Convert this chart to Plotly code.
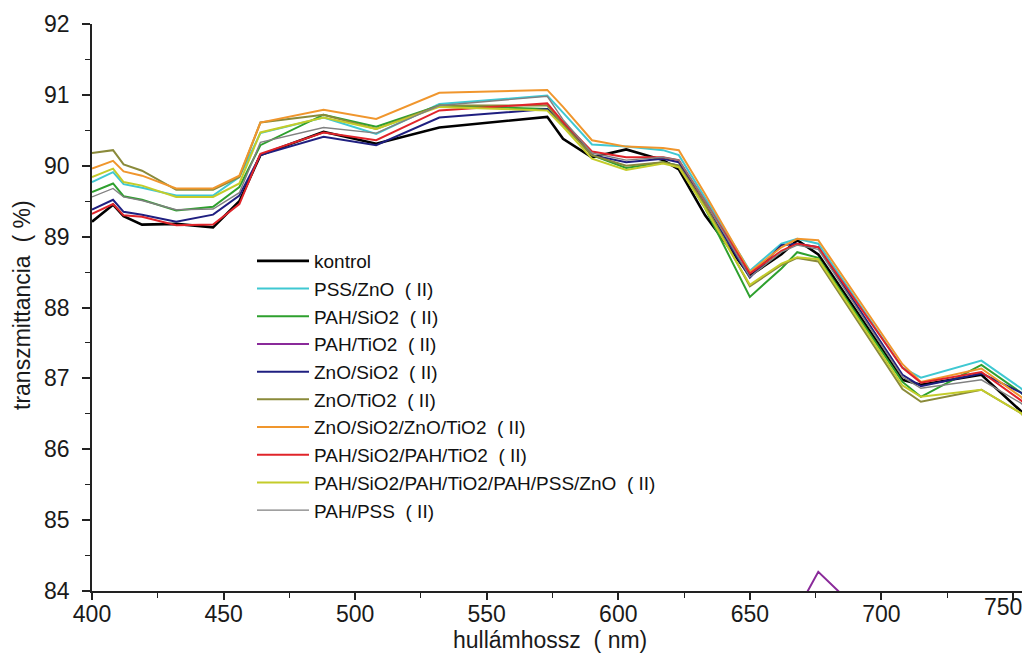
import plotly.graph_objects as go

wavelength = [400, 408, 412, 419, 432, 446, 456, 464, 488, 508, 532, 573, 579, 590,
              603, 617, 623, 633, 650, 662, 668, 676, 708, 715, 738, 753, 760]

kontrol = [89.21, 89.45, 89.29, 89.17, 89.18, 89.13, 89.50, 90.15, 90.48, 90.31, 90.54, 90.69, 90.38, 90.12,
           90.23, 90.08, 89.95, 89.30, 88.45, 88.75, 88.95, 88.75, 86.98, 86.91, 87.05, 86.55, 86.30]
pss_zno = [89.77, 89.91, 89.74, 89.69, 89.58, 89.58, 89.84, 90.46, 90.68, 90.45, 90.87, 90.99, 90.75, 90.30,
           90.27, 90.22, 90.15, 89.55, 88.52, 88.90, 88.97, 88.90, 87.15, 87.01, 87.25, 86.86, 86.60]
pah_sio2 = [89.63, 89.75, 89.57, 89.52, 89.37, 89.42, 89.70, 90.29, 90.72, 90.55, 90.85, 90.80, 90.60, 90.15,
            89.97, 90.05, 90.00, 89.40, 88.15, 88.55, 88.78, 88.70, 86.95, 86.74, 87.19, 86.80, 86.55]
pah_tio2 = [83.20, 83.40, 83.30, 83.20, 83.10, 83.10, 83.30, 83.60, 83.70, 83.60, 83.70, 83.80, 83.60, 83.50,
            83.50, 83.50, 83.40, 83.20, 83.00, 83.50, 83.73, 84.27, 83.13, 83.00, 83.10, 82.90, 82.80]
zno_sio2 = [89.38, 89.52, 89.35, 89.31, 89.21, 89.31, 89.58, 90.15, 90.41, 90.29, 90.68, 90.80, 90.60, 90.15,
            90.05, 90.10, 90.05, 89.45, 88.42, 88.88, 88.90, 88.85, 87.05, 86.89, 87.07, 86.80, 86.60]
zno_tio2 = [90.18, 90.22, 90.02, 89.93, 89.66, 89.66, 89.84, 90.61, 90.72, 90.52, 90.85, 90.85, 90.58, 90.15,
            90.00, 90.05, 90.00, 89.45, 88.30, 88.60, 88.70, 88.65, 86.85, 86.67, 86.84, 86.51, 86.25]
zno_sio2_zno_tio2 = [89.96, 90.07, 89.92, 89.86, 89.68, 89.68, 89.86, 90.61, 90.79, 90.66, 91.03, 91.07, 90.83, 90.36,
                     90.27, 90.25, 90.22, 89.60, 88.50, 88.85, 88.97, 88.95, 87.20, 86.95, 87.14, 86.74, 86.50]
pah_sio2_pah_tio2 = [89.32, 89.46, 89.30, 89.28, 89.16, 89.17, 89.46, 90.17, 90.47, 90.36, 90.78, 90.88, 90.62, 90.20,
                     90.12, 90.12, 90.08, 89.50, 88.48, 88.80, 88.90, 88.85, 87.15, 86.94, 87.09, 86.69, 86.45]
pah_multi = [89.84, 89.96, 89.77, 89.72, 89.56, 89.56, 89.75, 90.47, 90.68, 90.52, 90.83, 90.78, 90.55, 90.10,
             89.94, 90.03, 89.98, 89.40, 88.32, 88.62, 88.71, 88.68, 86.90, 86.74, 86.84, 86.51, 86.25]
pah_pss = [89.56, 89.68, 89.56, 89.51, 89.38, 89.39, 89.62, 90.33, 90.54, 90.46, 90.85, 90.98, 90.65, 90.18,
           90.08, 90.12, 90.08, 89.50, 88.43, 88.78, 88.88, 88.82, 87.02, 86.86, 86.98, 86.65, 86.45]

x_tickvals = [400, 450, 500, 550, 600, 650, 700, 750]
x_ticktext = ["400", "450", "500", "550", "600", "650", "700", ""]
last_tick_label = "750"

S = "\u00a0"
series = [
    ("kontrol", kontrol, "#000000", 2.6),
    ("PSS/ZnO" + S*2 + "(" + S + "II)", pss_zno, "#3fc8d2", 2.0),
    ("PAH/SiO2" + S*2 + "(" + S + "II)", pah_sio2, "#2ea02e", 2.0),
    ("PAH/TiO2" + S*2 + "(" + S + "II)", pah_tio2, "#8a2a9a", 2.0),
    ("ZnO/SiO2" + S*2 + "(" + S + "II)", zno_sio2, "#1f1f80", 2.0),
    ("ZnO/TiO2" + S*2 + "(" + S + "II)", zno_tio2, "#8a8a3a", 2.0),
    ("ZnO/SiO2/ZnO/TiO2" + S*2 + "(" + S + "II)", zno_sio2_zno_tio2, "#f0962d", 2.0),
    ("PAH/SiO2/PAH/TiO2" + S*2 + "(" + S + "II)", pah_sio2_pah_tio2, "#e0242a", 2.0),
    ("PAH/SiO2/PAH/TiO2/PAH/PSS/ZnO" + S*2 + "(" + S + "II)", pah_multi, "#c4cc2a", 2.0),
    ("PAH/PSS" + S*2 + "(" + S + "II)", pah_pss, "#808080", 1.4),
]

fig = go.Figure()
for name, vals, color, w in series:
    fig.add_trace(go.Scatter(x=wavelength, y=vals, mode="lines", name=name,
                             line=dict(color=color, width=w)))

# The page body adds an 8px offset; work in page coordinates and convert.
OFF = 8
FW, FH = 1014, 650
plot_left, plot_top, plot_bottom = 92 - OFF, 24 - OFF, 591 - OFF
L, T, B = plot_left, plot_top, FH - plot_bottom
PW = FW - L
PH = FH - T - B
x_end = 400 + (1022 - 92) / ((1013 - 92) / 350)


def px(xp):
    return (xp - OFF - L) / PW


def py(yp):
    return 1 - (yp - OFF - T) / PH


font_family = "Liberation Sans, Arial, sans-serif"
tick_font = dict(size=23, family=font_family, color="#1a1a1a")
fig.update_layout(
    width=FW, height=FH,
    margin=dict(l=L, r=0, t=T, b=B, autoexpand=False),
    paper_bgcolor="white", plot_bgcolor="white",
    font=dict(family=font_family, color="#1a1a1a"),
    showlegend=True,
    legend=dict(x=px(252), y=py(242), xanchor="left", yanchor="top",
                bgcolor="rgba(0,0,0,0)", font=dict(size=19, family=font_family, color="#111111"),
                tracegroupgap=0, itemwidth=52),
    xaxis=dict(range=[400, x_end], tickmode="array", tickvals=x_tickvals, ticktext=x_ticktext,
               showgrid=False, zeroline=False,
               automargin=False, ticklabeloverflow="allow",
               showline=True, linecolor="#222222", linewidth=1.5,
               ticks="outside", ticklen=7, tickwidth=1.5, tickcolor="#222222",
               ticklabelstandoff=-5,
               tickfont=tick_font,
               minor=dict(tickmode="linear", tick0=425, dtick=50, ticks="outside", ticklen=5,
                          tickwidth=1.2, tickcolor="#222222")),
    yaxis=dict(range=[84, 92], dtick=1, tick0=84, showgrid=False, zeroline=False,
               automargin=False,
               showline=True, linecolor="#222222", linewidth=1.5,
               ticks="outside", ticklen=8, tickwidth=1.5, tickcolor="#222222",
               ticklabelstandoff=8,
               tickfont=tick_font,
               minor=dict(dtick=0.5, ticks="outside", ticklen=5, tickwidth=1.2, tickcolor="#222222")),
    annotations=[
        dict(text=last_tick_label, xref="x", yref="paper", x=x_tickvals[-1], y=py(607),
             xanchor="center", yanchor="middle", xshift=-10, showarrow=False, font=tick_font),
        dict(text="hullámhossz" + S*2 + "(" + S + "nm)", xref="paper", yref="paper",
             x=px(550), y=py(640), xanchor="center", yanchor="middle", showarrow=False,
             font=dict(size=23, family=font_family, color="#1a1a1a")),
        dict(text="transzmittancia" + S*2 + "(" + S + "%)", xref="paper", yref="paper",
             x=px(22), y=py(305), xanchor="center", yanchor="middle", textangle=-90,
             showarrow=False, font=dict(size=23, family=font_family, color="#1a1a1a")),
    ],
)

fig.write_html("out.html")
